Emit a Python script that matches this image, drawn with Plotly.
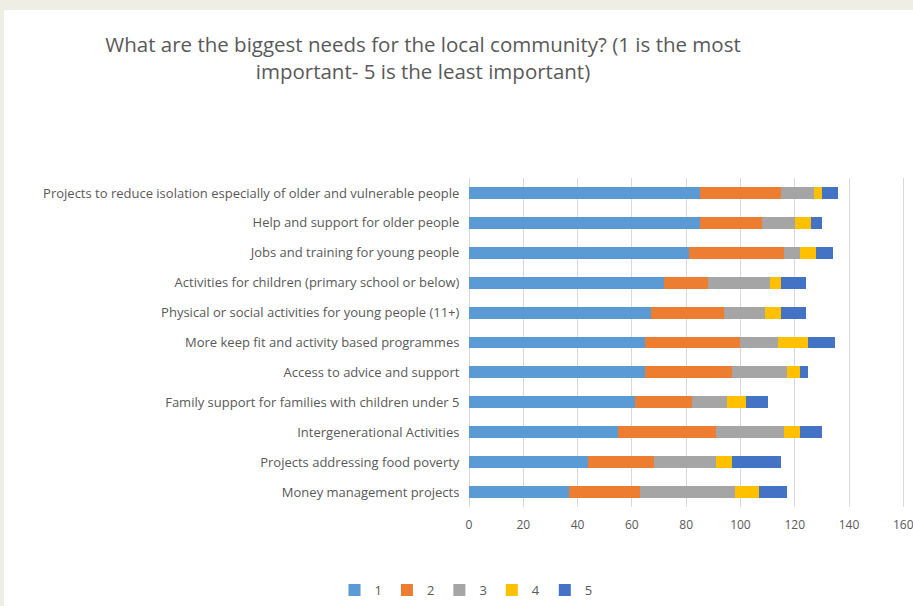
import plotly.graph_objects as go

categories = [
    "Projects to reduce isolation especially of older and vulnerable people",
    "Help and support for older people",
    "Jobs and training for young people",
    "Activities for children (primary school or below)",
    "Physical or social activities for young people (11+)",
    "More keep fit and activity based programmes",
    "Access to advice and support",
    "Family support for families with children under 5",
    "Intergenerational Activities",
    "Projects addressing food poverty",
    "Money management projects",
]

rank1 = [85, 85, 81, 72, 67, 65, 65, 61, 55, 44, 37]
rank2 = [30, 23, 35, 16, 27, 35, 32, 21, 36, 24, 26]
rank3 = [12, 12, 6, 23, 15, 14, 20, 13, 25, 23, 35]
rank4 = [3, 6, 6, 4, 6, 11, 5, 7, 6, 6, 9]
rank5 = [6, 4, 6, 9, 9, 10, 3, 8, 8, 18, 10]

series_names = ["1", "2", "3", "4", "5"]
series_values = [rank1, rank2, rank3, rank4, rank5]
colors = ["#5B9BD5", "#ED7D31", "#A5A5A5", "#FFC000", "#4472C4"]

x_ticks = [0, 20, 40, 60, 80, 100, 120, 140, 160]

W, H = 913, 606
L, R, T, B = 469, 7, 178, 99

fig = go.Figure()
for name, vals, col in zip(series_names, series_values, colors):
    fig.add_trace(go.Bar(
        y=categories, x=vals, name=name, orientation="h",
        marker=dict(color=col, line=dict(width=0)),
    ))

font_main = "Open Sans, sans-serif"

pw = W - L - R
ph = H - T - B
def px2paper_x(px):
    return (px - L) / pw
def px2paper_y(py):
    return 1 - (py - T) / ph

beige = "#EEEEE4"
fig.add_shape(type="rect", xref="paper", yref="paper",
              x0=px2paper_x(0), x1=px2paper_x(W), y0=px2paper_y(0), y1=px2paper_y(10),
              fillcolor=beige, line=dict(width=0), layer="below")
fig.add_shape(type="rect", xref="paper", yref="paper",
              x0=px2paper_x(0), x1=px2paper_x(4), y0=px2paper_y(0), y1=px2paper_y(H),
              fillcolor=beige, line=dict(width=0), layer="below")

fig.update_layout(
    width=W, height=H,
    margin=dict(l=L, r=R, t=T, b=B, pad=0, autoexpand=False),
    paper_bgcolor="white", plot_bgcolor="white",
    barmode="stack", bargap=0.6,
    font=dict(family=font_main, color="#595959", size=12),
    title=dict(
        text="What are the biggest needs for the local community? (1 is the most<br>important- 5 is the least important)",
        x=423 / W, xanchor="center", xref="container",
        y=1 - 52 / H, yanchor="top", yref="container",
        font=dict(family=font_main, size=20.5, color="#595959"),
    ),
    xaxis=dict(
        range=[0, 161], tickvals=x_ticks, showgrid=True, gridcolor="#D9D9D9",
        gridwidth=1, zeroline=True, zerolinecolor="#D9D9D9", zerolinewidth=1,
        showline=False, ticklabeloverflow="allow", automargin=False,
        ticks="outside", ticklen=7, tickcolor="rgba(0,0,0,0)",
        tickfont=dict(size=12, color="#595959", family=font_main),
    ),
    yaxis=dict(
        autorange="reversed", showgrid=False, zeroline=False, showline=False,
        automargin=False,
        ticks="outside", ticklen=6, tickcolor="rgba(0,0,0,0)",
        tickfont=dict(size=13, color="#595959", family=font_main),
    ),
    legend=dict(
        orientation="h", xref="container", yref="container",
        x=466 / W, xanchor="center", y=1 - 590 / H, yanchor="middle",
        font=dict(size=13, color="#595959", family=font_main),
        itemwidth=30, traceorder="normal",
    ),
    showlegend=True,
)

fig.write_html(
    "out.html",
    config={"displayModeBar": False},
    post_script="document.body.style.margin='0';document.body.style.padding='0';",
)
